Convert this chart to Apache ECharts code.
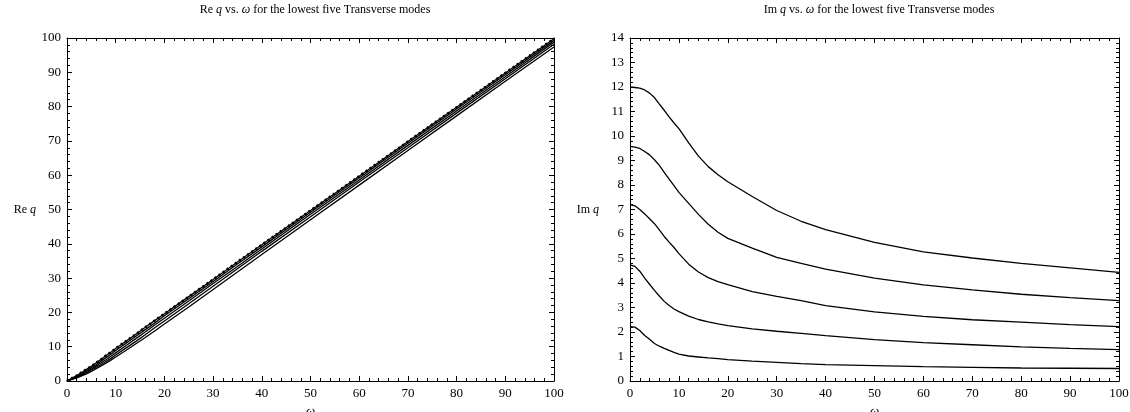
<!DOCTYPE html>
<html>
<head>
<meta charset="utf-8">
<script src="https://cdn.jsdelivr.net/npm/echarts@6/dist/echarts.min.js"></script>
<style>
  html, body { margin: 0; background: #fff; }
  #chart { width: 1130px; height: 412px; }
</style>
</head>
<body>
<div id="chart"></div>
<script>
// omega grid shared by every curve
const omega = [0, 1, 2, 3, 4, 5, 6, 7, 8, 9, 10, 12, 14, 16, 18, 20, 25, 30, 35, 40, 50, 60, 70, 80, 90, 100];

// Re q, five lowest transverse modes (top curve first)
const reMode1 = [0, 0.8, 1.6, 2.5, 3.4, 4.3, 5.3, 6.3, 7.4, 8.4, 9.5, 11.5, 13.5, 15.6, 17.6, 19.6, 24.6, 29.6, 34.7, 39.7, 49.7, 59.7, 69.8, 79.8, 89.8, 99.8];
const reMode2 = [0, 0.7, 1.4, 2.2, 3.0, 3.9, 4.8, 5.8, 6.8, 7.8, 8.9, 10.9, 12.9, 14.9, 16.9, 19.0, 24.0, 29.0, 34.1, 39.1, 49.2, 59.2, 69.3, 79.3, 89.3, 99.3];
const reMode3 = [0, 0.6, 1.2, 1.9, 2.7, 3.5, 4.4, 5.3, 6.2, 7.2, 8.2, 10.2, 12.2, 14.2, 16.3, 18.3, 23.3, 28.4, 33.4, 38.5, 48.6, 58.6, 68.7, 78.7, 88.7, 98.8];
const reMode4 = [0, 0.5, 1.0, 1.7, 2.4, 3.2, 4.0, 4.8, 5.7, 6.6, 7.6, 9.5, 11.4, 13.4, 15.5, 17.5, 22.5, 27.6, 32.7, 37.8, 47.9, 58.0, 68.0, 78.1, 88.1, 98.2];
const reMode5 = [0, 0.45, 0.9, 1.5, 2.1, 2.8, 3.6, 4.4, 5.2, 6.1, 7.0, 8.8, 10.7, 12.6, 14.6, 16.6, 21.6, 26.7, 31.8, 36.9, 47.0, 57.1, 67.2, 77.3, 87.4, 97.4];

// Im q, five lowest transverse modes (bottom curve first)
const imMode1 = [2.22, 2.2, 2.06, 1.86, 1.7, 1.53, 1.42, 1.33, 1.25, 1.17, 1.1, 1.02, 0.98, 0.94, 0.91, 0.87, 0.81, 0.76, 0.71, 0.67, 0.63, 0.59, 0.56, 0.53, 0.52, 0.51];
const imMode2 = [4.74, 4.68, 4.48, 4.2, 3.95, 3.7, 3.47, 3.25, 3.08, 2.94, 2.83, 2.65, 2.51, 2.41, 2.33, 2.26, 2.13, 2.03, 1.94, 1.85, 1.69, 1.57, 1.48, 1.39, 1.33, 1.28];
const imMode3 = [7.2, 7.15, 7.0, 6.82, 6.62, 6.42, 6.17, 5.9, 5.67, 5.45, 5.2, 4.77, 4.45, 4.22, 4.06, 3.93, 3.65, 3.45, 3.28, 3.08, 2.82, 2.64, 2.5, 2.4, 2.3, 2.22];
const imMode4 = [9.58, 9.55, 9.49, 9.37, 9.23, 9.03, 8.8, 8.52, 8.24, 7.97, 7.7, 7.25, 6.8, 6.4, 6.07, 5.82, 5.42, 5.05, 4.8, 4.57, 4.2, 3.92, 3.72, 3.54, 3.4, 3.28];
const imMode5 = [12.0, 11.98, 11.95, 11.88, 11.75, 11.57, 11.3, 11.05, 10.78, 10.53, 10.3, 9.72, 9.18, 8.75, 8.42, 8.13, 7.53, 6.96, 6.52, 6.18, 5.66, 5.27, 5.02, 4.8, 4.62, 4.43];

const reModes = [reMode1, reMode2, reMode3, reMode4, reMode5];
const imModes = [imMode1, imMode2, imMode3, imMode4, imMode5];

const FONT = '"Liberation Serif", "DejaVu Serif", serif';
const pairs = (ys) => omega.map((w, i) => [w, ys[i]]);

const lineSeries = (ys, axis, extra = {}) => ({
  type: 'line',
  xAxisIndex: axis,
  yAxisIndex: axis,
  data: pairs(ys),
  showSymbol: false,
  smooth: false,
  silent: true,
  animation: false,
  lineStyle: { color: '#000', width: 1.3, ...extra },
});

// frame axes: bottom/left carry labels, top/right only mirror ticks
function xAxis(grid, labelled) {
  return {
    type: 'value', gridIndex: grid, min: 0, max: 100, interval: 10,
    position: labelled ? 'bottom' : 'top',
    name: labelled ? 'ω' : '',
    nameLocation: 'middle', nameGap: 24, nameMoveOverlap: false,
    nameTextStyle: { fontFamily: FONT, fontSize: 13, fontStyle: 'italic', color: '#000' },
    axisLine: { show: true, onZero: false, lineStyle: { color: '#000', width: 1 } },
    axisTick: { show: true, inside: true, length: 5, lineStyle: { color: '#000' } },
    minorTick: { show: true, splitNumber: 5, length: 3, lineStyle: { color: '#000' } },
    axisLabel: { show: labelled, fontFamily: FONT, fontSize: 13, color: '#000', margin: 6 },
    splitLine: { show: false },
  };
}

function yAxis(grid, max, labelled, name) {
  return {
    type: 'value', gridIndex: grid, min: 0, max, interval: max > 20 ? 10 : 1,
    position: labelled ? 'left' : 'right',
    name: labelled ? name : '',
    nameLocation: 'middle', nameGap: 31, nameRotate: 0, nameMoveOverlap: false,
    nameTextStyle: {
      fontFamily: FONT, fontSize: 12, color: '#000',
      rich: { i: { fontFamily: FONT, fontSize: 12, fontStyle: 'italic', color: '#000' } },
    },
    axisLine: { show: true, onZero: false, lineStyle: { color: '#000', width: 1 } },
    axisTick: { show: true, inside: true, length: 5, lineStyle: { color: '#000' } },
    minorTick: { show: true, splitNumber: 5, length: 3, lineStyle: { color: '#000' } },
    axisLabel: { show: labelled, fontFamily: FONT, fontSize: 13, color: '#000', margin: 6 },
    splitLine: { show: false },
  };
}

const titleRich = {
  i: { fontFamily: FONT, fontSize: 12, fontStyle: 'italic', color: '#000' },
};

const chart = echarts.init(document.getElementById('chart'));
chart.setOption({
  backgroundColor: '#fff',
  animation: false,
  title: [
    {
      text: 'Re {i|q} vs. {i|ω} for the lowest five Transverse modes',
      left: 310, top: -1, textAlign: 'center',
      textStyle: { fontFamily: FONT, fontSize: 12, fontWeight: 'normal', color: '#000', rich: titleRich },
    },
    {
      text: 'Im {i|q} vs. {i|ω} for the lowest five Transverse modes',
      left: 874, top: -1, textAlign: 'center',
      textStyle: { fontFamily: FONT, fontSize: 12, fontWeight: 'normal', color: '#000', rich: titleRich },
    },
  ],
  grid: [
    { left: 67, top: 38, width: 487, height: 343, outerBoundsMode: 'none', containLabel: false },
    { left: 630, top: 38, width: 489, height: 343, outerBoundsMode: 'none', containLabel: false },
  ],
  xAxis: [xAxis(0, true), xAxis(0, false), xAxis(1, true), xAxis(1, false)],
  yAxis: [
    yAxis(0, 100, true, 'Re {i|q}'),
    yAxis(0, 100, false),
    yAxis(1, 14, true, 'Im {i|q}'),
    yAxis(1, 14, false),
  ],
  series: [
    ...reModes.map((ys) => lineSeries(ys, 0)),
    // the top Re curve is drawn with heavy dots on top of its line
    lineSeries(reMode1, 0, { width: 2.6, type: [2, 3] }),
    ...imModes.map((ys) => ({ ...lineSeries(ys, 2), yAxisIndex: 2 })),
  ],
});
</script>
</body>
</html>
